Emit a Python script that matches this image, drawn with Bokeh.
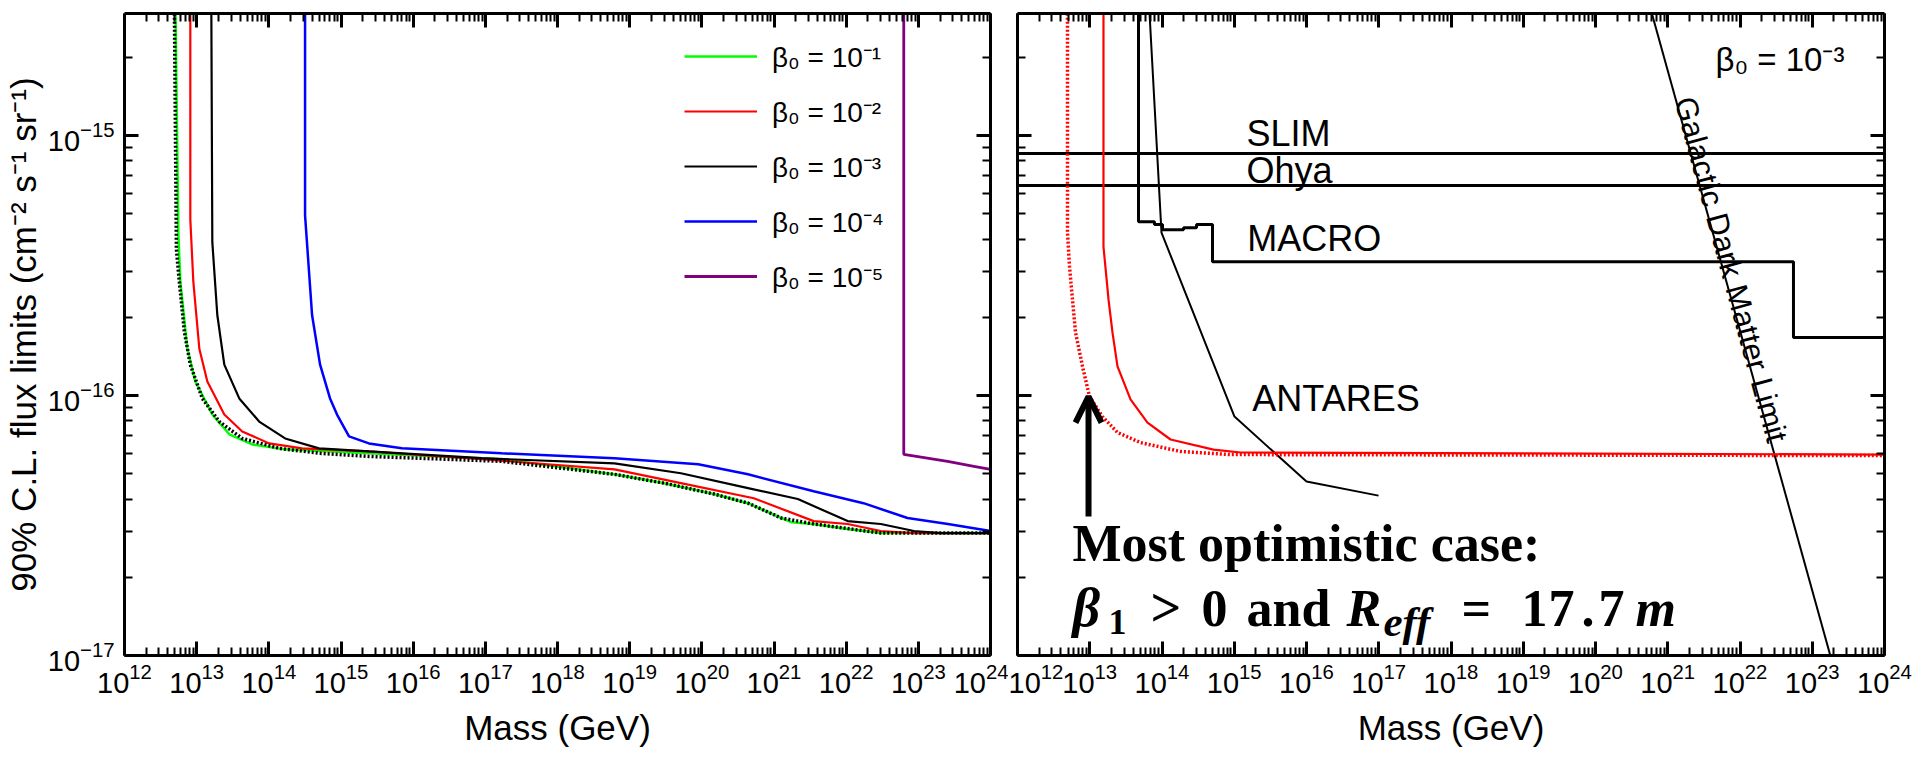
import numpy as np
from bokeh.plotting import figure
from bokeh.models import (FixedTicker, LogAxis, Legend, LegendItem, Label,
                          Arrow, OpenHead, Range1d, LogTickFormatter)
from bokeh.layouts import row
from bokeh.embed import file_html
from bokeh.resources import INLINE

# ---------------- data: log10(mass / GeV), log10(flux / cm^-2 s^-1 sr^-1) ----------------
# Left panel: beta0 = 1e-1 ... 1e-5, plus the dotted black reference curve
b1_logm = [12.705, 12.747, 12.774, 12.871, 12.982, 13.217, 13.452, 13.770, 14.226, 15.387,
           17.23, 18.79, 19.48, 20.17, 20.64, 21.10, 21.24, 21.55, 22.02, 22.48, 24.0]
b1_logf = [-14.5, -15.383, -15.563, -15.820, -15.946, -16.073, -16.149, -16.188, -16.207, -16.222,
           -16.245, -16.303, -16.337, -16.379, -16.414, -16.471, -16.487, -16.494, -16.513, -16.529, -16.529]
b2_logm = [12.912, 12.912, 12.954, 13.037, 13.148, 13.383, 13.631, 14.005, 14.461, 15.387,
           16.95, 18.79, 19.71, 20.72, 21.55, 22.02, 22.48, 22.94, 24.0]
b2_logf = [-14.5, -15.322, -15.563, -15.820, -15.946, -16.073, -16.138, -16.184, -16.203, -16.215,
           -16.245, -16.284, -16.337, -16.395, -16.483, -16.494, -16.521, -16.529, -16.529]
b3_logm = [13.203, 13.217, 13.286, 13.383, 13.590, 13.866, 14.226, 14.696, 15.387,
           16.95, 18.79, 19.71, 20.64, 21.33, 22.02, 22.48, 22.94, 23.31, 24.0]
b3_logf = [-14.5, -15.410, -15.690, -15.881, -16.011, -16.100, -16.165, -16.203, -16.215,
           -16.241, -16.261, -16.299, -16.356, -16.398, -16.483, -16.494, -16.521, -16.529, -16.529]
b4_logm = [14.502, 14.502, 14.599, 14.710, 14.848, 14.945, 15.111, 15.387, 15.843, 17.226,
           18.79, 19.95, 20.64, 21.55, 22.24, 22.85, 23.41, 24.0]
b4_logf = [-14.5, -15.307, -15.690, -15.881, -16.011, -16.073, -16.157, -16.184, -16.203, -16.222,
           -16.241, -16.264, -16.303, -16.368, -16.414, -16.471, -16.494, -16.521]
b5_logm = [22.798, 22.798, 23.406, 23.77, 24.0]
b5_logf = [-14.5, -16.226, -16.253, -16.272, -16.284]
opt_logm = [12.691, 12.719, 12.760, 12.830, 12.912, 13.078, 13.313, 13.631, 14.143, 14.696, 15.387,
            17.226, 18.79, 19.48, 20.17, 20.64, 21.10, 21.55, 22.48, 24.0]
opt_logf = [-14.5, -15.437, -15.563, -15.755, -15.881, -16.011, -16.100, -16.165, -16.203, -16.222, -16.234,
            -16.253, -16.303, -16.337, -16.379, -16.414, -16.471, -16.494, -16.529, -16.529]

# Right panel: experimental limits and beta0 = 1e-3 curves
slim_logf = -15.069
ohya_logf = -15.192
macro_edges_logm = [13.675, 13.896, 14.007, 14.298, 14.478, 14.699, 22.740, 24.0]
macro_levels_logf = [-15.331, -15.342, -15.362, -15.354, -15.342, -15.485, -15.777]
antares_logm = [13.827, 13.993, 15.003, 16.0, 16.997]
antares_logf = [-14.527, -15.373, -16.081, -16.331, -16.385]
gdm_logm = [20.0, 24.0]
gdm_logf = [-13.75, -17.75]
rs_logm = [13.190, 13.190, 13.260, 13.315, 13.384, 13.564, 13.799, 14.118, 14.713, 15.087, 24.0]
rs_logf = [-14.5, -15.427, -15.631, -15.758, -15.888, -16.015, -16.104, -16.169, -16.208, -16.219, -16.227]
rd_logm = [12.692, 12.692, 12.720, 12.761, 12.803, 12.900, 12.997, 13.176, 13.384, 13.702, 14.256, 14.948, 24.0]
rd_logf = [-14.5, -15.373, -15.504, -15.631, -15.758, -15.888, -16.004, -16.081, -16.142, -16.181, -16.215, -16.227, -16.231]

# axes / labels
x_decades = list(range(12, 25))   # tick labels 10^12 ... 10^24
y_decades = [-17, -16, -15]       # tick labels 10^-17 ... 10^-15
legend_labels = ["β₀ = 10⁻¹", "β₀ = 10⁻²", "β₀ = 10⁻³", "β₀ = 10⁻⁴", "β₀ = 10⁻⁵"]
X_MIN, X_MAX = 1e12, 1e24
Y_MIN, Y_TOP = 1e-17, 2.95e-15

FONT = "Liberation Sans"
SERIF = "Liberation Serif"
PX_PER_DEC = 260.0   # vertical pixels per decade (used only to nudge text baselines)
BASE_FIX = 0.31      # baseline correction (fraction of font size)


def pw(a):
    return [10.0 ** v for v in a]


x_major = [10.0 ** k for k in x_decades]
x_minor = [m * 10.0 ** k for k in x_decades[:-1] for m in range(2, 10)]
y_major = [10.0 ** k for k in y_decades]
y_minor = [m * 10.0 ** k for k in y_decades for m in range(2, 10) if m * 10.0 ** k < Y_TOP]


def style_axis(ax, ticks, minor, show=True, standoff=10):
    ax.ticker = FixedTicker(ticks=ticks, minor_ticks=minor)
    ax.formatter = LogTickFormatter()
    ax.axis_line_width = 3
    ax.axis_line_color = "black"
    ax.major_tick_in = 14
    ax.major_tick_out = 0
    ax.minor_tick_in = 8
    ax.minor_tick_out = 0
    ax.major_tick_line_width = 3
    ax.minor_tick_line_width = 2
    ax.major_tick_line_color = "black"
    ax.minor_tick_line_color = "black"
    ax.major_label_text_font = FONT
    ax.major_label_text_color = "black"
    ax.axis_label_text_font = FONT
    ax.axis_label_text_font_style = "normal"
    ax.axis_label_text_color = "black"
    if show:
        ax.major_label_text_font_size = "29px"
        ax.major_label_standoff = standoff
    else:
        ax.major_label_text_font_size = "1px"
        ax.major_label_text_alpha = 0
        ax.major_label_standoff = 0


def base_fig(w, bl, br, bt, bb, ylabels):
    p = figure(x_axis_type="log", y_axis_type="log",
               x_range=Range1d(X_MIN, X_MAX), y_range=Range1d(Y_MIN, Y_TOP),
               width=w, height=757,
               min_border_left=bl, min_border_right=br, min_border_top=bt, min_border_bottom=bb,
               output_backend="svg", toolbar_location=None)
    p.xgrid.visible = False
    p.ygrid.visible = False
    p.outline_line_color = None
    p.background_fill_color = "white"
    p.border_fill_color = "white"
    style_axis(p.xaxis[0], x_major, x_minor, True, 7)
    p.xaxis[0].axis_label = "Mass (GeV)"
    p.xaxis[0].axis_label_text_font_size = "35px"
    p.xaxis[0].axis_label_standoff = 12
    style_axis(p.yaxis[0], y_major, y_minor, ylabels, 10)
    if ylabels:
        p.yaxis[0].axis_label = "90% C.L. flux limits (cm⁻² s⁻¹ sr⁻¹)"
        p.yaxis[0].axis_label_text_font_size = "35px"
        p.yaxis[0].axis_label_standoff = 2
    top = LogAxis()
    style_axis(top, x_major, x_minor, False)
    p.add_layout(top, "above")
    right = LogAxis()
    style_axis(right, y_major, y_minor, False)
    p.add_layout(right, "right")
    return p


def text_label(p, txt, lm, lf, size, font=FONT, style="normal", dx=0, dy=0):
    # lf is the intended alphabetic baseline; dy = extra downward shift in px
    y = lf + (BASE_FIX * size - dy) / PX_PER_DEC
    p.add_layout(Label(x=10 ** lm, y=10 ** y, text=txt, text_font=font, text_font_size=f"{size}px",
                       text_font_style=style, text_baseline="alphabetic", x_offset=dx,
                       text_color="black"))


# ---------------- left panel ----------------
p1 = base_fig(1008, 122, 18, 10, 102, True)
series = [(b1_logm, b1_logf, "#00ff00", 2.5), (b2_logm, b2_logf, "#ff0000", 2.2),
          (b3_logm, b3_logf, "black", 2.2), (b4_logm, b4_logf, "#0000ff", 2.5),
          (b5_logm, b5_logf, "#800080", 2.8)]
rends = []
for lm, lf, col, lw in series:
    rends.append(p1.line(pw(lm), pw(lf), line_color=col, line_width=lw))
p1.line(pw(opt_logm), pw(opt_logf), line_color="black", line_width=3.5, line_dash="2 2")

legend = Legend(items=[LegendItem(label=lab, renderers=[r]) for lab, r in zip(legend_labels, rends)],
                location=(560, 359), orientation="vertical",
                glyph_width=73, glyph_height=40, label_height=40, label_standoff=15, spacing=15,
                padding=0, margin=0, border_line_color=None, background_fill_alpha=0,
                label_text_font=FONT, label_text_font_size="28px", label_text_color="black")
p1.add_layout(legend)

# ---------------- right panel ----------------
p2 = base_fig(907, 9, 31, 13, 101, False)
p2.line([X_MIN, X_MAX], [10 ** slim_logf] * 2, line_color="black", line_width=3)
p2.line([X_MIN, X_MAX], [10 ** ohya_logf] * 2, line_color="black", line_width=3)
mx, my = [macro_edges_logm[0]], [-14.4]
for i, lev in enumerate(macro_levels_logf):
    mx += [macro_edges_logm[i], macro_edges_logm[i + 1]]
    my += [lev, lev]
p2.line(pw(mx), pw(my), line_color="black", line_width=3)
p2.line(pw(antares_logm), pw(antares_logf), line_color="black", line_width=2)
p2.line(pw(gdm_logm), pw(gdm_logf), line_color="black", line_width=2)
p2.line(pw(rs_logm), pw(rs_logf), line_color="#ff0000", line_width=2.2)
p2.line(pw(rd_logm), pw(rd_logf), line_color="#ff0000", line_width=3.5, line_dash="2 2")

for txt, lm, lf in [("SLIM", 15.17, -15.035), ("Ohya", 15.17, -15.177),
                    ("MACRO", 15.18, -15.438), ("ANTARES", 15.25, -16.054)]:
    text_label(p2, txt, lm, lf, 36)
text_label(p2, "β₀ = 10⁻³", 21.66, -14.746, 33)
p2.add_layout(Label(x=10 ** 21.765, y=10 ** -15.515, text="Galactic Dark Matter Limit", text_font=FONT,
                    text_font_size="31px", text_align="center", text_baseline="middle",
                    angle=-1.306, x_offset=8, text_color="black"))

p2.add_layout(Arrow(end=OpenHead(size=26, line_width=6, line_color="black"),
                    x_start=10 ** 12.983, y_start=10 ** -16.465,
                    x_end=10 ** 12.983, y_end=10 ** -16.004,
                    line_width=6, line_color="black"))
text_label(p2, "Most optimistic case:", 12.761, -16.631, 52, SERIF, "bold")
formula_text = ["β", "1", ">", "0", "and", "R", "eff", "=", "1", "7", ".", "7", "m"]
formula_dx = [0, 36, 78, 129, 174, 274, 311, 389, 449, 476, 509, 526, 563]
formula_dy = [0, 9, 0, 0, 0, 0, 10, 0, 0, 0, 0, 0, 0]
formula_size = [54, 36, 54, 52, 52, 52, 43, 52, 52, 52, 52, 52, 52]
formula_style = ["bold italic", "bold", "bold", "bold", "bold", "bold italic", "bold italic", "bold",
                 "bold", "bold", "bold", "bold", "bold italic"]
for t, dx, dy, sz, st in zip(formula_text, formula_dx, formula_dy, formula_size, formula_style):
    text_label(p2, t, 12.761, -16.881, sz, SERIF, st, dx=dx, dy=dy)

layout = row(p1, p2, spacing=0)
open("out.html", "w").write(file_html(layout, INLINE))
